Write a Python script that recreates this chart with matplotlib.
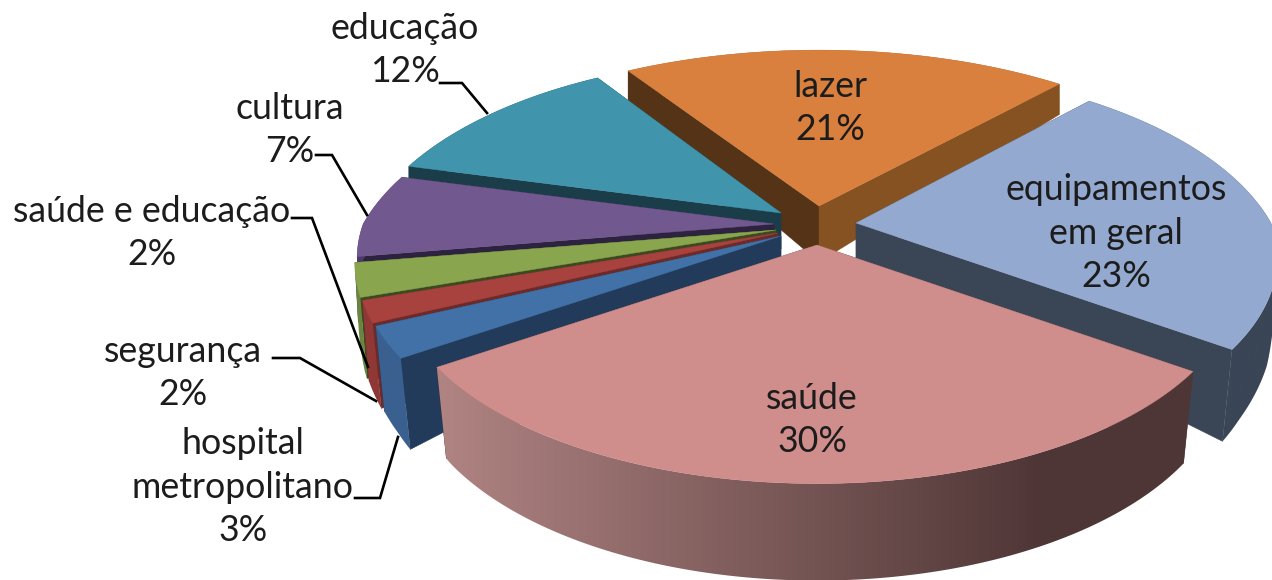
import numpy as np
import matplotlib
matplotlib.use('Agg')
import matplotlib.pyplot as plt
from matplotlib.colors import to_rgb
from matplotlib.patches import Polygon

# chart data, clockwise from the start angle
labels = ['lazer', 'equipamentos\nem geral', 'saúde', 'hospital\nmetropolitano', 'segurança',
          'saúde e educação', 'cultura', 'educação']
values = [21, 23, 30, 3, 2, 2, 7, 12]

# styles for each slice
top_colors = ['#d9803e', '#93a9cf', '#cf8d8c', '#4171a6', '#a8423f', '#89a54e', '#71588f', '#4095ad']
wall_first = ['#553316', '#3a4556', '#503636', '#223b5a', '#6c2a28', '#3d4a1f', '#2d2340', '#1b3d49']
wall_last = ['#865222', '#3a4556', '#503636', '#223b5a', '#6c2a28', '#3d4a1f', '#2d2340', '#1b3d49']
outer_left = ['#865222', '#3a4556', '#b08483', '#3a6090', '#8f3835', '#6b8540', '#4e3a68', '#1b3d49']
outer_right = ['#865222', '#3a4556', '#4f3636', '#3a6090', '#8f3835', '#6b8540', '#4e3a68', '#1b3d49']
apex_x = [819, 856, 817, 781, 778, 776, 774, 781]
apex_y = [206, 223, 245, 236, 233, 230, 224, 213]
apex_depth = [56, 36, 36, 22, 30, 30, 30, 36]
stretch = [1.03, 1.0, 1.0, 1.0, 1.0, 1.0, 0.99, 0.99]

start_angle = 123.2
# the perspective of the original pushes the slice edges a little
edge_shift = [0, 0, 0, -2.8, -1, 0, -2.4, -1, 0]
RX = 415
RY = 198


def project(ang, i):
    x = np.cos(np.radians(ang))
    y = np.sin(np.radians(ang))
    k = np.where(y > 0, 0.27, 0.17)
    s = 1 / (1 + k * y)
    return apex_x[i] + RX * stretch[i] * x * s, apex_y[i] - RY * y * s


def drop(px, py, ang, i):
    # bottom edge of a wall, it gets deeper toward the viewer
    y = np.sin(np.radians(ang))
    d = np.interp(y, [-1, -0.58, -0.3, 0, 0.8], [97, 92, 80, 36, 30])
    f = np.interp(y, [-0.5, 0], [0.975, 1])
    return apex_x[i] + (px - apex_x[i]) * f, py + d


def wedge(ax, i, a0, a1, z):
    x0, y0 = apex_x[i], apex_y[i]
    ang = np.linspace(a0, a1, 120)
    tx, ty = project(ang, i)
    bx, by = drop(tx, ty, ang, i)
    by0 = y0 + apex_depth[i]

    # outer wall, a gradient clipped to its outline
    xmin, xmax = min(tx.min(), bx.min()), max(tx.max(), bx.max())
    grad = np.linspace(0, 1, 256)
    grad = np.minimum(grad * 1.25, 1)[None, :, None]
    c1 = np.array(to_rgb(outer_left[i]))
    c2 = np.array(to_rgb(outer_right[i]))
    im = ax.imshow(c1 + (c2 - c1) * grad, extent=[xmin, xmax, by.max() + 2, ty.min() - 2],
                   aspect='auto', zorder=z, interpolation='bilinear')
    outline = Polygon(np.c_[np.r_[tx, bx[::-1]], np.r_[ty, by[::-1]]], transform=ax.transData)
    im.set_clip_path(outline)

    # the two cut walls, behind the outer wall on the front half
    z0 = z + 0.1 if np.sin(np.radians(a0)) > 0 else z - 0.1
    z1 = z + 0.1 if np.sin(np.radians(a1)) > 0 else z - 0.1
    ax.fill([x0, tx[0], bx[0], x0], [y0, ty[0], by[0], by0], color=wall_first[i], lw=0.3, zorder=z0)
    ax.fill([x0, tx[-1], bx[-1], x0], [y0, ty[-1], by[-1], by0], color=wall_last[i], lw=0.3, zorder=z1)

    ax.fill(np.r_[x0, tx], np.r_[y0, ty], color=top_colors[i], lw=0.3, zorder=z + 0.2)


fig = plt.figure(figsize=(12.72, 5.8), dpi=100)
ax = fig.add_axes([0, 0, 1, 1])

edges = start_angle - np.r_[0, np.cumsum(values)] * 3.6 + np.array(edge_shift)

# back to front
for z, i in enumerate([0, 7, 6, 5, 4, 3, 1, 2]):
    wedge(ax, i, edges[i], edges[i + 1], z + 1)

ax.set_xlim(0, 1272)
ax.set_ylim(580, 0)
ax.axis('off')

# leader lines
leaders = [
    ([440, 462, 487], [83, 83, 113]),
    ([316, 332, 367], [155, 155, 215]),
    ([292, 312, 368], [218, 218, 367]),
    ([273, 300, 376], [358, 358, 401]),
    ([355, 380, 398], [498, 498, 437]),
]
for lx, ly in leaders:
    ax.plot(lx, ly, color='black', lw=1.9, solid_joinstyle='miter', zorder=20)

# label text, centred at these points
text_x = [830, 1116, 812, 243, 183, 152, 290, 405]
text_y = [108, 233, 420, 487, 373, 233, 130, 50]
for i in range(len(labels)):
    ax.text(text_x[i], text_y[i], '%s\n%d%%' % (labels[i], values[i]), ha='center', va='center',
            family='Lato', fontsize=25.7, color='#1c1c1c', linespacing=1.4, zorder=21)

fig.savefig('out.png', dpi=100)
